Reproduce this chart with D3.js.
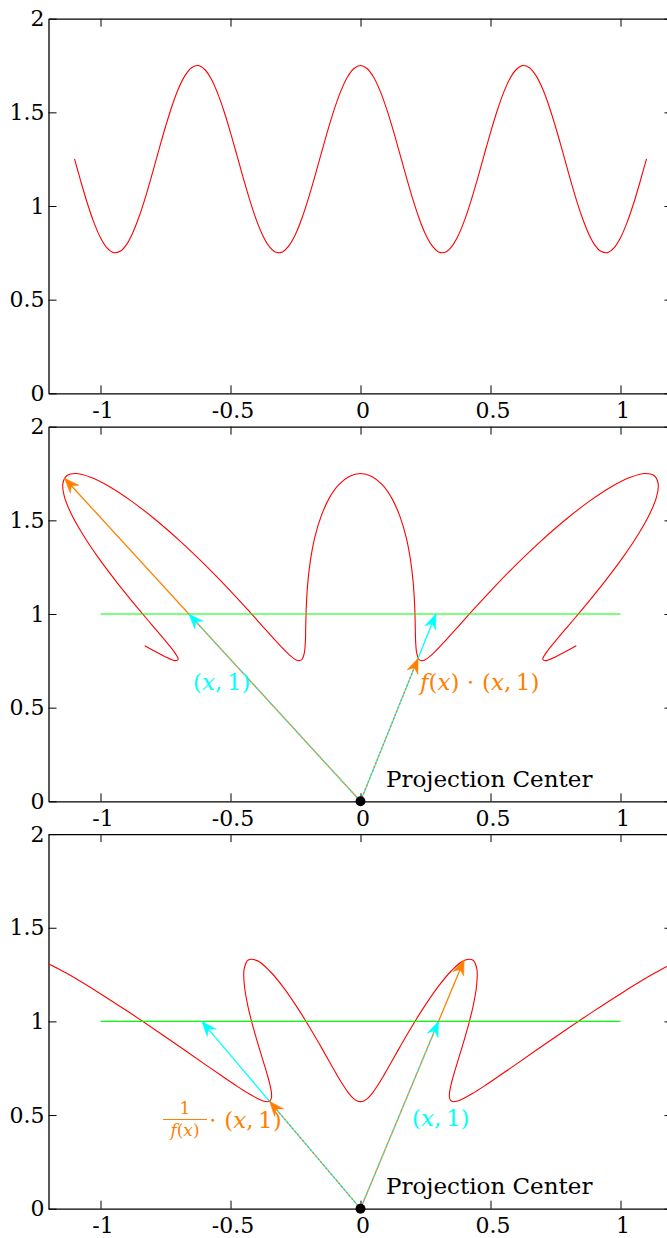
<!DOCTYPE html>
<html>
<head>
<meta charset="utf-8">
<script src="https://cdn.jsdelivr.net/npm/d3@7"></script>
<style>
  html, body { margin: 0; padding: 0; background: #fff; overflow: hidden; }
  text { font-family: "DejaVu Serif", serif; }
</style>
</head>
<body>
<svg id="fig" width="667" height="1238"></svg>
<script>
// Sample positions x and the height profile f(x)
const sampleX = [
  -1.1, -1.075, -1.05, -1.025, -1.0, -0.975, -0.95, -0.925, -0.9, -0.875, -0.85,
  -0.825, -0.8, -0.775, -0.75, -0.725, -0.7, -0.675, -0.65, -0.625, -0.6, -0.575,
  -0.55, -0.525, -0.5, -0.475, -0.45, -0.425, -0.4, -0.375, -0.35, -0.325, -0.3,
  -0.275, -0.25, -0.225, -0.2, -0.175, -0.15, -0.125, -0.1, -0.075, -0.05, -0.025,
  0,
  0.025, 0.05, 0.075, 0.1, 0.125, 0.15, 0.175, 0.2, 0.225, 0.25, 0.275, 0.3,
  0.325, 0.35, 0.375, 0.4, 0.425, 0.45, 0.475, 0.5, 0.525, 0.55, 0.575, 0.6,
  0.625, 0.65, 0.675, 0.7, 0.725, 0.75, 0.775, 0.8, 0.825, 0.85, 0.875, 0.9,
  0.925, 0.95, 0.975, 1.0, 1.025, 1.05, 1.075, 1.1
];
const sampleF = [
  1.252, 1.128, 1.012, 0.911, 0.830, 0.776, 0.751, 0.758, 0.794, 0.860, 0.949,
  1.057, 1.177, 1.302, 1.423, 1.534, 1.627, 1.696, 1.738, 1.750, 1.730, 1.681,
  1.604, 1.506, 1.392, 1.269, 1.145, 1.027, 0.923, 0.840, 0.782, 0.753, 0.755,
  0.788, 0.849, 0.936, 1.042, 1.161, 1.285, 1.408, 1.520, 1.616, 1.689, 1.734,
  1.750,
  1.734, 1.689, 1.616, 1.520, 1.408, 1.285, 1.161, 1.042, 0.936, 0.849, 0.788, 0.755,
  0.753, 0.782, 0.840, 0.923, 1.027, 1.145, 1.269, 1.392, 1.506, 1.604, 1.681, 1.730,
  1.750, 1.738, 1.696, 1.627, 1.534, 1.423, 1.302, 1.177, 1.057, 0.949, 0.860, 0.794,
  0.758, 0.751, 0.776, 0.830, 0.911, 1.012, 1.128, 1.252
];

// Parameter range used for the projected curves
const projRange = [-1, 1];

// Image line y = 1 spanning x in [-1, 1]
const imageLineY = 1;
const imageLineX = [-1, 1];

// Example rays: parameter x and f(x) at that point
const midArrowX = [-0.66, 0.29];
const midArrowF = [1.725, 0.764];
const botArrowX = [-0.61, 0.30];
const botArrowF = [1.742, 0.753];

// Axis ticks
const xTicks = [-1, -0.5, 0, 0.5, 1];
const xTickLabels = ["-1", "-0.5", "0", "0.5", "1"];
const yTicks = [0, 0.5, 1, 1.5, 2];
const yTickLabels = ["0", "0.5", "1", "1.5", "2"];

const RED = "#ff0000", GREEN = "#00ff00", CYAN = "#00ffff", ORANGE = "#ff8000";
const FONT = "'DejaVu Serif', serif";

const svg = d3.select("#fig");
const x = d3.scaleLinear().domain([-1.2, 1.2]).range([48.5, 672.5]);
const panelTops = [18.7, 426.7, 834.1];
const panelH = 374.6;

const line = d3.line()
  .x(d => x(d[0]))
  .curve(d3.curveCatmullRom.alpha(0.5));

function makePanel(i) {
  const top = panelTops[i];
  const y = d3.scaleLinear().domain([0, 2]).range([top + panelH, top]);
  const g = svg.append("g");

  const clipId = "clip" + i;
  svg.append("clipPath").attr("id", clipId)
    .append("rect")
    .attr("x", x(-1.2)).attr("y", y(2))
    .attr("width", x(1.2) - x(-1.2)).attr("height", y(0) - y(2));

  // axes, ticks pointing inward
  const styleAxis = sel => {
    sel.attr("font-family", FONT);
    sel.select(".domain").attr("stroke", "#000").attr("stroke-width", 1.3);
    sel.selectAll(".tick line").attr("stroke", "#000").attr("stroke-width", 1);
    sel.selectAll(".tick text")
      .attr("fill", "#000")
      .style("font-family", FONT)
      .style("font-size", "22px");
  };
  g.append("g").attr("transform", `translate(0,${y(0)})`)
    .call(d3.axisBottom(x).tickValues(xTicks).tickFormat((d, k) => xTickLabels[k])
      .tickSizeInner(-8).tickSizeOuter(0).tickPadding(9))
    .call(styleAxis)
    .call(s => s.selectAll(".tick text").attr("dx", 2));
  g.append("g").attr("transform", `translate(0,${y(2)})`)
    .call(d3.axisTop(x).tickValues(xTicks).tickFormat("")
      .tickSizeInner(-8).tickSizeOuter(0))
    .call(styleAxis);
  g.append("g").attr("transform", `translate(${x(-1.2)},0)`)
    .call(d3.axisLeft(y).tickValues(yTicks).tickFormat((d, k) => yTickLabels[k])
      .tickSizeInner(-8).tickSizeOuter(0).tickPadding(4))
    .call(styleAxis);
  g.append("g").attr("transform", `translate(${x(1.2)},0)`)
    .call(d3.axisRight(y).tickValues(yTicks).tickFormat("")
      .tickSizeInner(-8).tickSizeOuter(0))
    .call(styleAxis);

  const plot = svg.append("g").attr("clip-path", `url(#${clipId})`);
  return { y, g, plot };
}

function drawHead(g, x0, y0, x1, y1, color) {
  const ang = Math.atan2(y1 - y0, x1 - x0) * 180 / Math.PI;
  const L = 15, W = 5.8;
  g.append("path")
    .attr("d", `M0,0L${-L},${-W}L${-L * 0.68},0L${-L},${W}Z`)
    .attr("transform", `translate(${x1},${y1}) rotate(${ang})`)
    .attr("fill", color).attr("stroke", color).attr("stroke-width", 0.5)
    .attr("stroke-linejoin", "miter");
}

// A pair of rays from the origin sharing a direction; the shorter one
// is drawn dashed on top of the longer so both colours show.
function drawRayPair(g, y, rays) {
  const px = rays.map(r => ({ ...r, X: x(r.p[0]), Y: y(r.p[1]) }));
  const ox = x(0), oy = y(0);
  px.forEach(r => r.len = Math.hypot(r.X - ox, r.Y - oy));
  px.sort((a, b) => b.len - a.len);
  const [longR, shortR] = px;
  g.append("line").attr("x1", ox).attr("y1", oy).attr("x2", longR.X).attr("y2", longR.Y)
    .attr("stroke", longR.color).attr("stroke-width", 1.3);
  g.append("line").attr("x1", ox).attr("y1", oy).attr("x2", shortR.X).attr("y2", shortR.Y)
    .attr("stroke", shortR.color).attr("stroke-width", 1.3)
    .attr("stroke-dasharray", "2,2");
  drawHead(g, ox, oy, longR.X, longR.Y, longR.color);
  drawHead(g, ox, oy, shortR.X, shortR.Y, shortR.color);
}

function mathText(g, xPos, yPos, parts, color, size) {
  const t = g.append("text").attr("x", xPos).attr("y", yPos)
    .attr("fill", color).style("font-family", FONT).style("font-size", size + "px");
  parts.forEach(([s, it]) => {
    t.append("tspan").text(s).style("font-style", it ? "italic" : "normal");
  });
  return t;
}

// ---------- Panel 1: f(x) ----------
{
  const { y, plot } = makePanel(0);
  const pts = sampleX.map((v, k) => [v, sampleF[k]]);
  plot.append("path").datum(pts)
    .attr("d", line.y(d => y(d[1])))
    .attr("fill", "none").attr("stroke", RED).attr("stroke-width", 1.1);
}

const inRange = sampleX.map((v, k) => [v, sampleF[k]])
  .filter(d => d[0] >= projRange[0] - 1e-9 && d[0] <= projRange[1] + 1e-9);

// ---------- Panel 2: f(x)·(x,1) ----------
{
  const { y, g, plot } = makePanel(1);
  const pts = inRange.map(([v, f]) => [v * f, f]);
  plot.append("path").datum(pts)
    .attr("d", line.y(d => y(d[1])))
    .attr("fill", "none").attr("stroke", RED).attr("stroke-width", 1.1);
  plot.append("line")
    .attr("x1", x(imageLineX[0])).attr("x2", x(imageLineX[1]))
    .attr("y1", y(imageLineY)).attr("y2", y(imageLineY))
    .attr("stroke", GREEN).attr("stroke-width", 1.2);
  const ag = svg.append("g");
  midArrowX.forEach((v, k) => {
    const f = midArrowF[k];
    drawRayPair(ag, y, [
      { p: [v, 1], color: CYAN },
      { p: [v * f, f], color: ORANGE }
    ]);
  });
  ag.append("circle").attr("cx", x(0)).attr("cy", y(0)).attr("r", 5).attr("fill", "#000");

  mathText(ag, 193, 690, [["(", 0], ["x", 1], [",\u2009", 0], ["1)", 0]], CYAN, 23);
  mathText(ag, 420, 690, [["f", 1], ["(", 0], ["x", 1], [") \u22C5 (", 0], ["x", 1], [",\u2009", 0], ["1)", 0]], ORANGE, 23);
  ag.append("text").attr("x", 386).attr("y", 787).attr("fill", "#000")
    .style("font-family", FONT).style("font-size", "23px").text("Projection Center");
}

// ---------- Panel 3: (x,1)/f(x) ----------
{
  const { y, g, plot } = makePanel(2);
  const pts = inRange.map(([v, f]) => [v / f, 1 / f]);
  plot.append("path").datum(pts)
    .attr("d", line.y(d => y(d[1])))
    .attr("fill", "none").attr("stroke", RED).attr("stroke-width", 1.1);
  plot.append("line")
    .attr("x1", x(imageLineX[0])).attr("x2", x(imageLineX[1]))
    .attr("y1", y(imageLineY)).attr("y2", y(imageLineY))
    .attr("stroke", GREEN).attr("stroke-width", 1.2);
  const ag = svg.append("g");
  botArrowX.forEach((v, k) => {
    const f = botArrowF[k];
    drawRayPair(ag, y, [
      { p: [v, 1], color: CYAN },
      { p: [v / f, 1 / f], color: ORANGE }
    ]);
  });
  ag.append("circle").attr("cx", x(0)).attr("cy", y(0)).attr("r", 5).attr("fill", "#000");

  // fraction 1 / f(x)
  ag.append("text").attr("x", 185).attr("y", 1114).attr("text-anchor", "middle")
    .attr("fill", ORANGE).style("font-family", FONT).style("font-size", "17px").text("1");
  ag.append("line").attr("x1", 163).attr("x2", 207).attr("y1", 1119.5).attr("y2", 1119.5)
    .attr("stroke", ORANGE).attr("stroke-width", 1);
  mathText(ag, 185, 1136, [["f", 1], ["(", 0], ["x", 1], [")", 0]], ORANGE, 17)
    .attr("text-anchor", "middle");
  mathText(ag, 209, 1128, [["\u22C5 (", 0], ["x", 1], [",\u2009", 0], ["1)", 0]], ORANGE, 23);

  mathText(ag, 412, 1126, [["(", 0], ["x", 1], [",\u2009", 0], ["1)", 0]], CYAN, 23);
  ag.append("text").attr("x", 386).attr("y", 1194).attr("fill", "#000")
    .style("font-family", FONT).style("font-size", "23px").text("Projection Center");
}
</script>
</body>
</html>
